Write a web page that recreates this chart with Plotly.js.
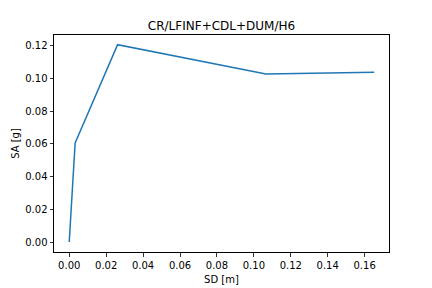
<!DOCTYPE html>
<html><head><meta charset="utf-8">
<script src="https://cdn.plot.ly/plotly-3.0.1.min.js"></script>
<style>html,body{margin:0;padding:0;background:#fff}#plot{width:432px;height:288px}</style>
</head><body><div id="plot"></div>
<script>
const sd = [0.0, 0.0032, 0.0262, 0.1065, 0.1652];
const sa = [0.0, 0.0605, 0.1206, 0.1027, 0.1037];
const xTicks = [0, 0.02, 0.04, 0.06, 0.08, 0.10, 0.12, 0.14, 0.16];
const yTicks = [0, 0.02, 0.04, 0.06, 0.08, 0.10, 0.12];
const font = {family: 'DejaVu Sans', size: 10, color: '#000'};
const axisCommon = {
  showgrid: false, zeroline: false, showline: true, mirror: true,
  linecolor: '#000', linewidth: 1, ticks: 'outside', ticklen: 3.5,
  tickcolor: '#000', tickwidth: 0.8, tickfont: font, tickformat: '.2f'
};
Plotly.newPlot('plot', [{
  x: sd, y: sa, type: 'scatter', mode: 'lines',
  line: {color: '#1f77b4', width: 1.5}, hoverinfo: 'none'
}], {
  width: 432, height: 288,
  margin: {l: 54, r: 43, t: 35, b: 36},
  paper_bgcolor: '#fff', plot_bgcolor: '#fff',
  font: font, showlegend: false,
  title: {text: 'CR/LFINF+CDL+DUM/H6', font: {family: 'DejaVu Sans', size: 12, color: '#000'}, x: 0.5, xanchor: 'center', y: 0.91, yanchor: 'middle', xref: 'paper'},
  xaxis: Object.assign({}, axisCommon, {range: [-0.00825, 0.1732], tickvals: xTicks,
    title: {text: 'SD [m]', font: font, standoff: 6}}),
  yaxis: Object.assign({}, axisCommon, {range: [-0.0061, 0.1265], tickvals: yTicks,
    title: {text: 'SA [g]', font: font, standoff: 3}})
}, {staticPlot: true});
</script></body></html>
